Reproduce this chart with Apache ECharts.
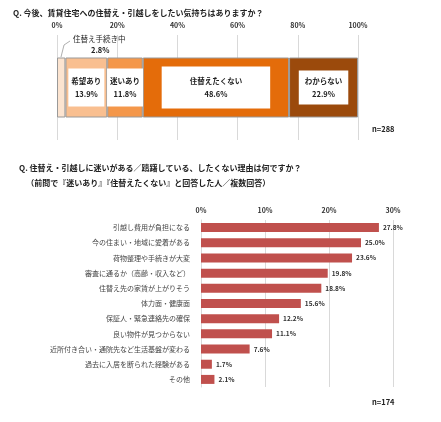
<!DOCTYPE html>
<html>
<head>
<meta charset="utf-8">
<script src="https://cdn.jsdelivr.net/npm/echarts@6/dist/echarts.min.js"></script>
<style>html,body{margin:0;padding:0;background:#fff}#c{width:441px;height:422px}</style>
</head>
<body>
<div id="c"></div>
<script>
// 上段：住替え意向
const intentNames = ["住替え手続き中", "希望あり", "迷いあり", "住替えたくない", "わからない"];
const intentValues = [2.8, 13.9, 11.8, 48.6, 22.9];
const intentColors = ["#fce4d0", "#f9bf90", "#f4974a", "#e46c0a", "#9b4a0c"];

// 下段：理由
const reasons = [
  "引越し費用が負担になる", "今の住まい・地域に愛着がある", "荷物整理や手続きが大変",
  "審査に通るか（高齢・収入など）", "住替え先の家賃が上がりそう", "体力面・健康面",
  "保証人・緊急連絡先の確保", "良い物件が見つからない", "近所付き合い・通院先など生活基盤が変わる",
  "過去に入居を断られた経験がある", "その他"
];
const reasonValues = [27.8, 25.0, 23.6, 19.8, 18.8, 15.6, 12.2, 11.1, 7.6, 1.7, 2.1];

const font = "'Noto Sans CJK JP', sans-serif";
const chart = echarts.init(document.getElementById("c"));

const topSeries = intentNames.map((name, i) => ({
  type: "bar", name: name, stack: "a", barWidth: 60,
  xAxisIndex: 0, yAxisIndex: 0,
  data: [intentValues[i]],
  itemStyle: { color: intentColors[i], borderColor: "#999", borderWidth: 1 },
  label: i === 0 ? { show: false } : {
    show: true, position: "inside",
    formatter: name + "\n" + intentValues[i].toFixed(1) + "%",
    backgroundColor: "#fff", color: "#222", fontSize: 7.5, fontWeight: "bold",
    fontFamily: font, lineHeight: 13,
    padding: i === 3 ? [8, 28] : (i === 4 ? [4, 6] : [6, 3])
  }
}));

chart.setOption({
  animation: false,
  textStyle: { fontFamily: font },
  title: [
    { text: "Q. 今後、賃貸住宅への住替え・引越しをしたい気持ちはありますか？", left: 8, top: 4,
      textStyle: { fontSize: 8, fontWeight: "bold", color: "#222", fontFamily: font } },
    { text: "Q. 住替え・引越しに迷いがある／躊躇している、したくない理由は何ですか？\n    （前問で『迷いあり』『住替えたくない』と回答した人／複数回答）", left: 14, top: 155,
      textStyle: { fontSize: 8, fontWeight: "bold", color: "#222", fontFamily: font, lineHeight: 15 } }
  ],
  graphic: [
    { type: "text", left: 372, top: 125, style: { text: "n=288", fontSize: 7.5, fontWeight: "bold", fill: "#222", fontFamily: font } },
    { type: "text", left: 372, top: 398, style: { text: "n=174", fontSize: 7.5, fontWeight: "bold", fill: "#222", fontFamily: font } },
    { type: "text", left: 73, top: 35, style: { text: "住替え手続き中", fontSize: 7.5, fill: "#222", fontFamily: font } },
    { type: "text", left: 91, top: 46, style: { text: "2.8%", fontSize: 7.5, fontWeight: "bold", fill: "#222", fontFamily: font } },
    { type: "polyline", shape: { points: [[61, 57], [64, 45], [70, 41]] }, style: { stroke: "#999", lineWidth: 0.8, fill: null } }
  ],
  grid: [
    { left: 57, right: 83, top: 35, height: 105 },
    { left: 201, right: 48, top: 220, height: 167 }
  ],
  xAxis: [
    { gridIndex: 0, type: "value", position: "top", min: 0, max: 100, interval: 20,
      axisLabel: { formatter: v => v + "%", fontSize: 7, fontWeight: "bold", color: "#333", margin: 6 },
      splitLine: { lineStyle: { color: "#d9d9d9" } }, axisLine: { show: false }, axisTick: { show: false } },
    { gridIndex: 1, type: "value", position: "top", min: 0, max: 30, interval: 10,
      axisLabel: { formatter: v => v + "%", fontSize: 7, fontWeight: "bold", color: "#333", margin: 6 },
      splitLine: { lineStyle: { color: "#d9d9d9" } }, axisLine: { show: false }, axisTick: { show: false } }
  ],
  yAxis: [
    { gridIndex: 0, type: "category", data: [""], axisLine: { show: false }, axisTick: { show: false }, axisLabel: { show: false } },
    { gridIndex: 1, type: "category", data: reasons, inverse: true,
      axisLine: { lineStyle: { color: "#d9d9d9" } }, axisTick: { show: false },
      axisLabel: { fontSize: 7, color: "#444", margin: 11 } }
  ],
  series: topSeries.concat([{
    type: "bar", xAxisIndex: 1, yAxisIndex: 1, data: reasonValues, barWidth: 9,
    itemStyle: { color: "#c0504d" },
    label: { show: true, position: "right", formatter: p => p.value.toFixed(1) + "%",
      fontSize: 6.5, fontWeight: "bold", color: "#333", distance: 4 }
  }])
});
</script>
</body>
</html>
